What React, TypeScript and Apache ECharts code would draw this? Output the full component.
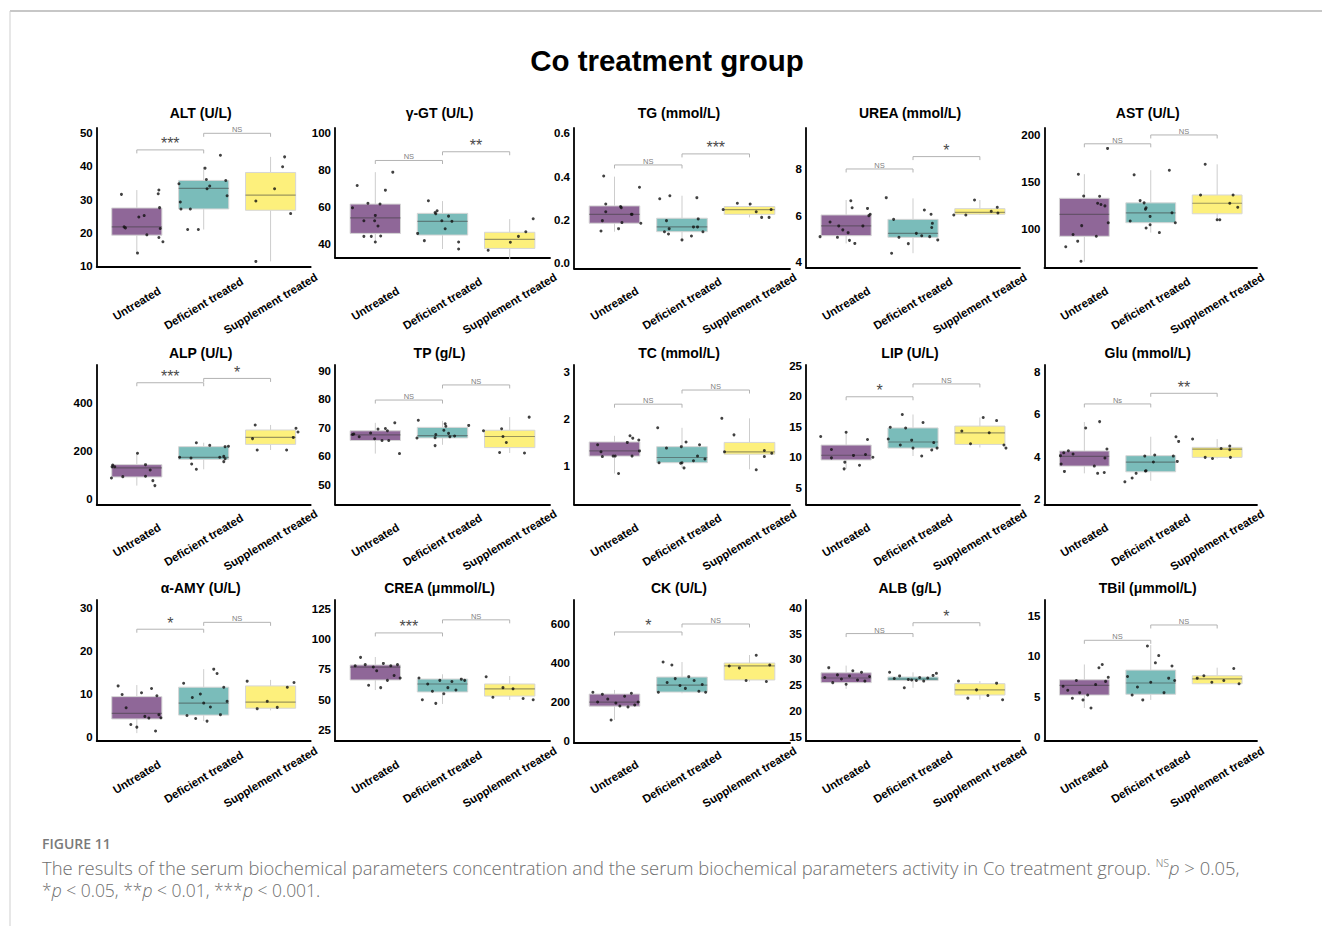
import React, { useEffect, useRef } from "react";
import * as echarts from "echarts";

// ---------- categories & colours ----------
const groups = ["Untreated", "Deficient treated", "Supplement treated"];
const fills = ["#8f6798", "#7abcba", "#fdf07c"];

// ---------- data: box stats are [lower whisker, Q1, median, Q3, upper whisker] ----------
// points are [jittered group position, value]; brackets are [from, to, height, label]

// ALT (U/L)
const altTicks = [10, 20, 30, 40, 50];
const altRange = [9.8, 51.6];
const altBoxes = [[13.9, 19.3, 21.8, 27.5, 32.9], [21.0, 27.2, 33.4, 35.8, 39.9], [11.4, 26.8, 31.4, 38.2, 42.9]];
const altPoints = [
  [0.77, 31.6], [0.81, 21.8], [0.83, 21.5], [1.03, 24.8], [1.11, 25.2], [1.15, 19.4], [1.01, 13.9], [1.33, 32.9], [1.32, 31.8], [1.34, 27.6], [1.35, 21.3], [1.33, 18.6], [1.39, 17.3],
  [1.63, 34.8], [1.65, 29.3], [1.66, 27.2], [1.8, 27.2], [1.76, 21.0], [1.92, 21.0], [2.02, 39.5], [2.04, 36.1], [2.05, 33.3], [2.09, 34.1], [2.25, 43.4], [2.33, 35.8], [2.35, 31.2],
  [2.78, 29.6], [3.06, 33.3], [3.18, 39.9], [3.21, 42.9], [3.3, 25.8], [2.78, 11.4],
];
const altBrackets = [[1, 2, 45.0, "***"], [2, 3, 50.0, "NS"]];

// γ-GT (U/L)
const ggtTicks = [40, 60, 80, 100];
const ggtRange = [32.8, 102.7];
const ggtBoxes = [[41.5, 45.9, 54.3, 61.7, 78.9], [37.5, 45.0, 52.4, 56.7, 63.3], [32.1, 37.8, 42.7, 46.5, 53.6]];
const ggtPoints = [
  [0.73, 71.7], [0.66, 59.7], [0.83, 52.7], [0.83, 44.3], [0.94, 44.3], [0.89, 62.1], [1.0, 55.6], [0.99, 52.7], [1.04, 49.9], [1.07, 61.7], [1.08, 44.5], [1.0, 41.3], [1.15, 69.2], [1.26, 78.9],
  [1.63, 45.9], [1.73, 42.0], [1.79, 63.5], [1.89, 57.2], [1.92, 58.1], [1.9, 56.5], [1.99, 52.7], [2.04, 48.4], [2.09, 55.2], [2.14, 52.4], [2.24, 41.3], [2.24, 37.5],
  [2.68, 36.8], [3.01, 41.1], [3.13, 44.3], [3.24, 46.8], [3.35, 53.8], [3.07, 32.3],
];
const ggtBrackets = [[1, 2, 85.2, "NS"], [2, 3, 89.9, "**"]];

// TG (mmol/L)
const tgTicks = [0, 0.2, 0.4, 0.6];
const tgRange = [-0.023, 0.6245];
const tgBoxes = [[0.146, 0.185, 0.226, 0.265, 0.4], [0.108, 0.146, 0.168, 0.208, 0.312], [0.212, 0.226, 0.248, 0.262, 0.277]];
const tgPoints = [
  [0.84, 0.403], [0.87, 0.274], [0.87, 0.238], [0.82, 0.197], [0.8, 0.149], [1.06, 0.16], [1.09, 0.262], [1.1, 0.257], [1.11, 0.188], [1.25, 0.226], [1.26, 0.226], [1.37, 0.351], [1.39, 0.185],
  [1.67, 0.298], [1.82, 0.312], [1.77, 0.197], [1.81, 0.16], [1.74, 0.146], [1.8, 0.135], [2.0, 0.108], [2.14, 0.126], [2.17, 0.168], [2.23, 0.168], [2.24, 0.205], [2.31, 0.146], [2.22, 0.303],
  [2.61, 0.248], [2.82, 0.277], [3.01, 0.274], [3.1, 0.238], [3.18, 0.212], [3.29, 0.212], [3.32, 0.248],
];
const tgBrackets = [[1, 2, 0.454, "NS"], [2, 3, 0.505, "***"]];

// UREA (mmol/L)
const ureaTicks = [4, 6, 8];
const ureaRange = [3.786, 9.756];
const ureaBoxes = [[4.81, 5.14, 5.56, 6.03, 6.67], [4.39, 5.07, 5.24, 5.84, 6.74], [6.03, 6.06, 6.14, 6.3, 6.67]];
const ureaPoints = [
  [0.61, 5.1], [0.76, 5.73], [0.89, 5.56], [0.87, 5.07], [0.95, 5.39], [1.03, 5.27], [1.05, 4.94], [1.07, 6.64], [1.09, 6.34], [1.13, 4.81], [1.25, 5.56], [1.32, 6.31], [1.34, 6.0], [1.36, 6.06],
  [1.6, 6.77], [1.71, 5.84], [1.68, 4.39], [1.79, 5.07], [1.93, 4.8], [2.05, 5.24], [2.13, 5.14], [2.17, 6.24], [2.27, 6.06], [2.29, 5.67], [2.28, 5.49], [2.25, 5.1], [2.37, 4.96],
  [2.61, 6.03], [2.79, 6.03], [2.92, 6.67], [3.17, 6.19], [3.26, 6.36], [3.27, 6.11],
];
const ureaBrackets = [[1, 2, 8.0, "NS"], [2, 3, 8.53, "*"]];

// AST (U/L)
const astTicks = [100, 150, 200];
const astRange = [58.9, 207];
const astBoxes = [[64.9, 91.9, 115.1, 132.3, 157.9], [95.8, 106.3, 116.8, 127.4, 162.1], [109.5, 115.8, 127.0, 135.8, 168.4]];
const astPoints = [
  [1.35, 185.3], [0.91, 157.9], [0.99, 134.7], [1.23, 134.4], [1.2, 127], [1.25, 125.6], [1.31, 124.2], [1.36, 106.3], [0.96, 103.2], [0.83, 93.7], [1.18, 91.9], [0.9, 86.7], [0.72, 80.7], [0.95, 65.3],
  [1.75, 157.2], [2.28, 162.1], [1.84, 129.8], [1.9, 127.4], [1.93, 122.1], [1.92, 120.7], [1.99, 113], [1.69, 108.1], [2.32, 116.8], [2.37, 106.3], [1.99, 104.2], [1.93, 100.7], [2.13, 95.8],
  [2.82, 168.4], [2.75, 135.8], [3.24, 135.8], [3.19, 127], [3.31, 122.8], [3.0, 109.5], [3.04, 109.5],
];
const astBrackets = [[1, 2, 190.2, "NS"], [2, 3, 199.6, "NS"]];

// ALP (U/L)
const alpTicks = [0, 200, 400];
const alpRange = [-20.9, 560];
const alpBoxes = [[57, 93, 130.6, 144.4, 191.7], [125, 166.7, 175, 219.5, 236], [205.6, 229, 258, 289, 310]];
const alpPoints = [
  [0.63, 136], [0.64, 143], [0.67, 136], [0.62, 89], [0.79, 94.5], [1.01, 191.7], [1.13, 144.4], [1.2, 122], [1.13, 95.8], [1.24, 77.8], [1.27, 57],
  [1.64, 175], [1.81, 172], [1.82, 147], [1.89, 236], [1.89, 125], [2.09, 225], [2.24, 175], [2.3, 179], [2.3, 157], [2.32, 219.5], [2.37, 221], [2.32, 169],
  [2.77, 310], [2.73, 253], [2.8, 205.6], [3.24, 205.6], [3.34, 258], [3.38, 296], [3.41, 280.6],
];
const alpBrackets = [[1, 2, 486, "***"], [2, 3, 504, "*"]];

// TP (g/L)
const tpTicks = [50, 60, 70, 80, 90];
const tpRange = [43.2, 92.1];
const tpBoxes = [[61.0, 65.6, 67.6, 69.0, 71.8], [64.1, 66.5, 67.3, 70.2, 72.5], [61.2, 63.1, 67.0, 69.2, 73.8]];
const tpPoints = [
  [0.66, 67.7], [0.68, 67.9], [0.76, 66.9], [0.93, 68.2], [0.99, 66.2], [1.04, 69.6], [1.1, 65.6], [1.15, 69.8], [1.18, 69.0], [1.2, 65.6], [1.29, 71.8], [1.36, 61.0],
  [1.62, 66.5], [1.64, 72.7], [1.89, 63.8], [1.89, 66.6], [1.9, 67.7], [2.02, 69.2], [2.04, 71.5], [2.05, 70.6], [2.09, 68.1], [2.11, 66.9], [2.18, 67.2], [2.39, 70.9],
  [2.61, 69.0], [2.85, 61.4], [2.88, 69.7], [2.9, 67.0], [2.95, 64.9], [3.22, 61.2], [3.29, 73.8],
];
const tpBrackets = [[1, 2, 79.8, "NS"], [2, 3, 85.1, "NS"]];

// TC (mmol/L)
const tcTicks = [1, 2, 3];
const tcRange = [0.189, 3.14];
const tcBoxes = [[0.84, 1.21, 1.32, 1.51, 1.64], [0.96, 1.07, 1.18, 1.41, 1.81], [0.93, 1.25, 1.3, 1.5, 2.01]];
const tcPoints = [
  [0.75, 1.45], [0.8, 1.3], [0.82, 1.2], [0.98, 1.21], [1.01, 1.21], [1.06, 0.84], [1.19, 1.5], [1.23, 1.64], [1.27, 1.59], [1.26, 1.21], [1.36, 1.55], [1.37, 1.32],
  [1.64, 1.81], [1.66, 1.07], [1.77, 1.38], [1.98, 1.06], [1.99, 1.41], [2.0, 1.07], [2.03, 0.96], [2.06, 1.51], [2.17, 1.11], [2.23, 1.21], [2.26, 1.45], [2.34, 1.15],
  [2.59, 2.01], [2.63, 1.3], [2.77, 1.66], [3.1, 0.92], [3.22, 1.33], [3.22, 1.2], [3.33, 1.27],
];
const tcBrackets = [[1, 2, 2.31, "NS"], [2, 3, 2.61, "NS"]];

// LIP (U/L)
const lipTicks = [5, 10, 15, 20, 25];
const lipRange = [2.3, 25.1];
const lipBoxes = [[8.1, 9.56, 10.33, 12.0, 14.1], [10.2, 11.5, 12.5, 14.8, 17.0], [11.6, 12.1, 14.0, 15.1, 16.5]];
const lipPoints = [
  [0.62, 13.4], [0.78, 11.26], [0.78, 9.9], [0.98, 9.2], [0.97, 8.1], [1.0, 14.1], [1.11, 10.3], [1.2, 8.7], [1.29, 10.44], [1.32, 12.9], [1.4, 10.0],
  [1.63, 13.0], [1.66, 14.9], [1.81, 12.0], [1.84, 17.0], [1.89, 14.8], [1.98, 12.8], [2.0, 11.5], [2.13, 10.2], [2.15, 15.7], [2.28, 11.2], [2.31, 12.4], [2.36, 11.5],
  [2.73, 14.3], [2.86, 12.2], [3.05, 16.5], [3.14, 14.0], [3.25, 16.0], [3.36, 12.0], [3.39, 11.5],
];
const lipBrackets = [[1, 2, 19.9, "*"], [2, 3, 22.0, "NS"]];

// Glu (mmol/L)
const gluTicks = [2, 4, 6, 8];
const gluRange = [1.765, 8.31];
const gluBoxes = [[3.22, 3.56, 4.02, 4.27, 5.63], [2.87, 3.29, 3.75, 4.05, 4.94], [3.92, 3.97, 4.36, 4.44, 4.83]];
const gluPoints = [
  [0.64, 4.05], [0.65, 3.66], [0.69, 4.19], [0.76, 4.28], [0.83, 4.13], [0.7, 3.31], [1.02, 5.35], [1.15, 3.56], [1.2, 3.22], [1.23, 5.65], [1.3, 3.26], [1.31, 3.94], [1.34, 4.36],
  [1.61, 2.82], [1.72, 3.0], [1.78, 3.22], [1.92, 3.33], [1.91, 4.03], [2.04, 3.75], [2.06, 4.08], [2.34, 4.03], [2.38, 4.94], [2.42, 4.72], [2.4, 3.78], [1.93, 3.34],
  [2.63, 4.83], [2.82, 3.97], [2.93, 3.92], [3.06, 4.39], [3.19, 4.5], [3.19, 4.33], [3.2, 3.97],
];
const gluBrackets = [[1, 2, 6.48, "Ns"], [2, 3, 6.98, "**"]];

// α-AMY (U/L)
const amyTicks = [0, 10, 20, 30];
const amyRange = [-0.93, 31.9];
const amyBoxes = [[0.9, 4.2, 5.5, 9.4, 12.1], [3.7, 5.1, 7.9, 11.6, 15.8], [6.2, 6.7, 8.1, 11.9, 13.3]];
const amyPoints = [
  [0.72, 11.9], [0.84, 6.8], [0.91, 2.9], [1.0, 2.3], [1.07, 10.3], [1.12, 4.8], [1.18, 4.4], [1.28, 1.4], [1.3, 9.6], [1.33, 5.2], [1.36, 4.5], [0.78, 9.9], [1.22, 11.3],
  [1.7, 12.5], [1.75, 5.0], [1.83, 9.2], [1.88, 4.3], [1.95, 10.0], [2.0, 7.9], [2.05, 3.7], [2.1, 7.0], [2.15, 15.8], [2.2, 14.8], [2.25, 5.2], [2.3, 11.6], [2.35, 8.3],
  [2.65, 13.0], [2.8, 6.6], [2.95, 8.3], [3.1, 6.9], [3.25, 11.6], [3.35, 12.7],
];
const amyBrackets = [[1, 2, 25.1, "*"], [2, 3, 26.7, "NS"]];

// CREA (μmmol/L)
const creaTicks = [25, 50, 75, 100, 125];
const creaRange = [15.9, 132.4];
const creaBoxes = [[58, 66.3, 77, 78.7, 85.3], [46.5, 56.4, 63, 67.1, 71], [49.8, 53, 59, 63, 69.6]];
const creaPoints = [
  [0.7, 78], [0.78, 85], [0.85, 79], [0.9, 62], [0.97, 77], [1.02, 74], [1.08, 60], [1.12, 80], [1.18, 66], [1.23, 78], [1.28, 70], [1.33, 79], [1.37, 68],
  [1.65, 68], [1.7, 50], [1.78, 63], [1.85, 57], [1.9, 47], [1.96, 66], [2.02, 55], [2.08, 60], [2.14, 65], [2.2, 58], [2.28, 67], [2.33, 66],
  [2.65, 69], [2.75, 52], [2.9, 60], [3.05, 59], [3.2, 51], [3.35, 50],
];
const creaBrackets = [[1, 2, 105.2, "***"], [2, 3, 116, "NS"]];

// CK (U/L)
const ckTicks = [0, 200, 400, 600];
const ckRange = [-10, 723];
const ckBoxes = [[108, 179, 200, 241, 262], [245, 251, 287, 328, 405], [305, 313, 385, 400, 441]];
const ckPoints = [
  [0.68, 250], [0.75, 200], [0.82, 240], [0.9, 215], [0.95, 108], [1.02, 195], [1.08, 180], [1.15, 230], [1.2, 175], [1.25, 245], [1.3, 185], [1.35, 200],
  [1.65, 250], [1.72, 405], [1.78, 300], [1.85, 390], [1.9, 320], [1.97, 285], [2.05, 270], [2.1, 330], [2.18, 310], [2.25, 255], [2.3, 290], [2.35, 250],
  [2.7, 385], [2.85, 375], [2.95, 310], [3.1, 440], [3.25, 305], [3.3, 390],
];
const ckBrackets = [[1, 2, 559, "*"], [2, 3, 600, "NS"]];

// ALB (g/L)
const albTicks = [15, 20, 25, 30, 35, 40];
const albRange = [14.2, 41.5];
const albBoxes = [[24.3, 25.5, 26.4, 27.4, 28.8], [24.5, 25.9, 26.2, 26.6, 27.5], [22.2, 23.1, 24.1, 25.3, 25.8]];
const albPoints = [
  [0.68, 26.5], [0.74, 28.4], [0.8, 25.5], [0.87, 27.0], [0.93, 26.2], [1.0, 25.2], [1.05, 26.8], [1.1, 27.8], [1.17, 26.0], [1.23, 27.5], [1.28, 25.8], [1.35, 26.7],
  [1.65, 27.5], [1.72, 26.3], [1.8, 26.8], [1.87, 24.5], [1.93, 26.1], [1.98, 26.0], [2.05, 25.9], [2.1, 26.5], [2.16, 25.8], [2.22, 26.4], [2.3, 26.9], [2.35, 27.3],
  [2.68, 25.8], [2.82, 22.5], [2.95, 24.1], [3.12, 23.0], [3.25, 25.4], [3.34, 22.2],
];
const albBrackets = [[1, 2, 35.0, "NS"], [2, 3, 37.1, "*"]];

// TBil (μmmol/L)
const tbilTicks = [0, 5, 10, 15];
const tbilRange = [-0.5, 17];
const tbilBoxes = [[3.6, 5.2, 6.4, 7.1, 9.0], [4.6, 5.3, 6.7, 8.3, 11.4], [6.6, 6.6, 7.2, 7.6, 8.6]];
const tbilPoints = [
  [0.68, 6.3], [0.75, 5.8], [0.82, 4.8], [0.88, 7.0], [0.93, 5.5], [0.98, 4.6], [1.05, 5.2], [1.1, 3.6], [1.17, 6.5], [1.22, 8.6], [1.27, 9.0], [1.32, 6.9], [1.36, 7.4],
  [1.65, 7.5], [1.72, 5.2], [1.8, 6.2], [1.88, 4.6], [1.95, 11.3], [2.0, 6.8], [2.07, 9.2], [2.12, 10.1], [2.2, 5.5], [2.27, 7.3], [2.32, 8.8], [2.36, 7.0],
  [2.7, 7.3], [2.8, 7.6], [2.92, 6.8], [3.1, 7.0], [3.25, 8.5], [3.33, 6.6],
];
const tbilBrackets = [[1, 2, 12.0, "NS"], [2, 3, 13.9, "NS"]];

// ---------- panel list (reading order) ----------
const panels = [
  { title: "ALT (U/L)", ticks: altTicks, range: altRange, boxes: altBoxes, points: altPoints, brackets: altBrackets, digits: 0 },
  { title: "γ-GT (U/L)", ticks: ggtTicks, range: ggtRange, boxes: ggtBoxes, points: ggtPoints, brackets: ggtBrackets, digits: 0 },
  { title: "TG (mmol/L)", ticks: tgTicks, range: tgRange, boxes: tgBoxes, points: tgPoints, brackets: tgBrackets, digits: 1 },
  { title: "UREA (mmol/L)", ticks: ureaTicks, range: ureaRange, boxes: ureaBoxes, points: ureaPoints, brackets: ureaBrackets, digits: 0 },
  { title: "AST (U/L)", ticks: astTicks, range: astRange, boxes: astBoxes, points: astPoints, brackets: astBrackets, digits: 0 },
  { title: "ALP (U/L)", ticks: alpTicks, range: alpRange, boxes: alpBoxes, points: alpPoints, brackets: alpBrackets, digits: 0 },
  { title: "TP (g/L)", ticks: tpTicks, range: tpRange, boxes: tpBoxes, points: tpPoints, brackets: tpBrackets, digits: 0 },
  { title: "TC (mmol/L)", ticks: tcTicks, range: tcRange, boxes: tcBoxes, points: tcPoints, brackets: tcBrackets, digits: 0 },
  { title: "LIP (U/L)", ticks: lipTicks, range: lipRange, boxes: lipBoxes, points: lipPoints, brackets: lipBrackets, digits: 0 },
  { title: "Glu (mmol/L)", ticks: gluTicks, range: gluRange, boxes: gluBoxes, points: gluPoints, brackets: gluBrackets, digits: 0 },
  { title: "α-AMY (U/L)", ticks: amyTicks, range: amyRange, boxes: amyBoxes, points: amyPoints, brackets: amyBrackets, digits: 0 },
  { title: "CREA (μmmol/L)", ticks: creaTicks, range: creaRange, boxes: creaBoxes, points: creaPoints, brackets: creaBrackets, digits: 0 },
  { title: "CK (U/L)", ticks: ckTicks, range: ckRange, boxes: ckBoxes, points: ckPoints, brackets: ckBrackets, digits: 0 },
  { title: "ALB (g/L)", ticks: albTicks, range: albRange, boxes: albBoxes, points: albPoints, brackets: albBrackets, digits: 0 },
  { title: "TBil (μmmol/L)", ticks: tbilTicks, range: tbilRange, boxes: tbilBoxes, points: tbilPoints, brackets: tbilBrackets, digits: 0 },
];

// ---------- layout (pixel frame of each plotting panel) ----------
const colLeft = [96.7, 335, 574, 806, 1044.5];
const colRight = [310.7, 550, 790, 1020, 1257];
const rowTop = [128, 365, 600];
const rowBottom = [
  [266.7, 257.7, 268.3, 267.3, 267.3],
  [504.3, 504.3, 504.3, 504.3, 504.3],
  [741, 741, 743, 741, 741],
];
const rowTitleY = [113, 353, 588];
const labelCenterY = [303.5, 540, 777];

const FONT = "'Liberation Sans', Arial, Helvetica, sans-serif";
const CAPTION_FONT = "'Open Sans', Lato, 'Noto Sans', sans-serif";

function buildOption() {
  const grid: any[] = [];
  const xAxis: any[] = [];
  const yAxis: any[] = [];
  const series: any[] = [];
  const graphic: any[] = [];

  // page frame lines
  graphic.push({ type: "line", shape: { x1: 10, y1: 11, x2: 1322, y2: 11 }, style: { stroke: "#b4b4b4", lineWidth: 1.5 }, silent: true });
  graphic.push({ type: "line", shape: { x1: 10, y1: 11, x2: 10, y2: 926 }, style: { stroke: "#cfcfcf", lineWidth: 1 }, silent: true });

  // main title
  graphic.push({
    type: "text",
    style: { text: "Co treatment group", x: 667, y: 60, align: "center", verticalAlign: "middle", fontSize: 29.5, fontWeight: "bold", fontFamily: FONT, fill: "#000" },
  });

  panels.forEach((p, i) => {
    const row = Math.floor(i / 5);
    const col = i % 5;
    const left = colLeft[col];
    const right = colRight[col];
    const top = rowTop[row];
    const bottom = rowBottom[row][col];

    grid.push({ left, top, width: right - left, height: bottom - top, containLabel: false });

    xAxis.push({
      type: "value",
      gridIndex: i,
      min: 0.4,
      max: 3.6,
      position: "bottom",
      axisLine: { show: true, onZero: false, lineStyle: { color: "#000", width: 1.8 } },
      axisTick: { show: false },
      splitLine: { show: false },
      axisLabel: {
        customValues: [1, 2, 3],
        formatter: (v: number) => groups[Math.round(v) - 1],
        rotate: 31,
        align: "center",
        verticalAlign: "middle",
        margin: labelCenterY[row] - bottom,
        fontSize: 11.5,
        fontWeight: "bold",
        fontFamily: FONT,
        color: "#000",
      },
    });

    yAxis.push({
      type: "value",
      gridIndex: i,
      min: p.range[0],
      max: p.range[1],
      position: "left",
      axisLine: { show: true, onZero: false, lineStyle: { color: "#000", width: 1.8 } },
      axisTick: { show: false },
      splitLine: { show: false },
      axisLabel: {
        customValues: p.ticks,
        formatter: (v: number) => v.toFixed(p.digits),
        margin: 4,
        fontSize: 11.5,
        fontWeight: "bold",
        fontFamily: FONT,
        color: "#000",
      },
    });

    // panel title
    graphic.push({
      type: "text",
      style: { text: p.title, x: (left + right) / 2 - 3, y: rowTitleY[row], align: "center", verticalAlign: "middle", fontSize: 14, fontWeight: "bold", fontFamily: FONT, fill: "#000" },
    });

    // boxes with whiskers
    series.push({
      type: "custom",
      xAxisIndex: i,
      yAxisIndex: i,
      silent: true,
      z: 2,
      encode: { x: 0, y: [1, 2, 3, 4, 5] },
      data: p.boxes.map((b, k) => [k + 1, ...b]),
      renderItem: (params: any, api: any) => {
        const x = api.value(0);
        const half = 0.375;
        const lo = api.coord([x, api.value(1)]);
        const q1 = api.coord([x, api.value(2)]);
        const q3 = api.coord([x, api.value(4)]);
        const hi = api.coord([x, api.value(5)]);
        const bl = api.coord([x - half, api.value(2)]);
        const tr = api.coord([x + half, api.value(4)]);
        const ml = api.coord([x - half, api.value(3)]);
        const mr = api.coord([x + half, api.value(3)]);
        const whisker = { stroke: "#cdcdcd", lineWidth: 1 };
        return {
          type: "group",
          children: [
            { type: "line", shape: { x1: hi[0], y1: hi[1], x2: q3[0], y2: q3[1] }, style: whisker },
            { type: "line", shape: { x1: q1[0], y1: q1[1], x2: lo[0], y2: lo[1] }, style: whisker },
            {
              type: "rect",
              shape: { x: bl[0], y: tr[1], width: tr[0] - bl[0], height: bl[1] - tr[1] },
              style: { fill: fills[params.dataIndex], stroke: "#d6d6d6", lineWidth: 1 },
            },
            { type: "line", shape: { x1: ml[0], y1: ml[1], x2: mr[0], y2: mr[1] }, style: { stroke: "rgba(60,60,60,0.5)", lineWidth: 1.2 } },
          ],
        };
      },
    });

    // individual observations
    series.push({
      type: "scatter",
      xAxisIndex: i,
      yAxisIndex: i,
      silent: true,
      z: 3,
      symbol: "circle",
      symbolSize: 3,
      itemStyle: { color: "#111" },
      data: p.points,
    });

    // significance brackets
    series.push({
      type: "custom",
      xAxisIndex: i,
      yAxisIndex: i,
      silent: true,
      z: 4,
      encode: { x: [0, 1], y: 2 },
      data: p.brackets.map((b) => [b[0], b[1], b[2]]),
      renderItem: (params: any, api: any) => {
        const b = p.brackets[params.dataIndex];
        const a = api.coord([api.value(0), api.value(2)]);
        const c = api.coord([api.value(1), api.value(2)]);
        const tick = 3.5;
        const ns = /^n/i.test(String(b[3]));
        return {
          type: "group",
          children: [
            {
              type: "polyline",
              shape: { points: [[a[0], a[1] + tick], [a[0], a[1]], [c[0], c[1]], [c[0], c[1] + tick]] },
              style: { stroke: "#b3b3b3", lineWidth: 1, fill: null },
            },
            {
              type: "text",
              style: {
                text: String(b[3]),
                x: (a[0] + c[0]) / 2,
                y: a[1] + (ns ? 0.5 : 2),
                align: "center",
                verticalAlign: "bottom",
                fontSize: ns ? 7.5 : 16,
                fontFamily: FONT,
                fill: ns ? "#7f7f7f" : "#4a4a4a",
              },
            },
          ],
        };
      },
    });
  });

  // figure caption
  graphic.push({
    type: "text",
    style: { text: "FIGURE 11", x: 42, y: 843, verticalAlign: "middle", fontSize: 14, fontWeight: 600, fontFamily: CAPTION_FONT, fill: "#7a7a7a" },
  });
  graphic.push({
    type: "text",
    style: {
      text:
        "The results of the serum biochemical parameters concentration and the serum biochemical parameters activity in Co treatment group. {sup|NS}{it|p} > 0.05,",
      x: 42,
      y: 867,
      verticalAlign: "middle",
      fontSize: 18.4,
      fontFamily: CAPTION_FONT,
      fontWeight: 300,
      fill: "#6e6e6e",
      rich: {
        sup: { fontSize: 10.5, padding: [0, 0, 9, 0], fontFamily: CAPTION_FONT, fontWeight: 300, fill: "#6e6e6e" },
        it: { fontSize: 18.4, fontStyle: "italic", fontFamily: CAPTION_FONT, fontWeight: 300, fill: "#6e6e6e" },
      },
    },
  });
  graphic.push({
    type: "text",
    style: {
      text: "*{it|p} < 0.05, **{it|p} < 0.01, ***{it|p} < 0.001.",
      x: 42,
      y: 890,
      verticalAlign: "middle",
      fontSize: 17.5,
      fontFamily: CAPTION_FONT,
      fontWeight: 300,
      fill: "#6e6e6e",
      rich: {
        it: { fontSize: 17.5, fontStyle: "italic", fontFamily: CAPTION_FONT, fontWeight: 300, fill: "#6e6e6e" },
      },
    },
  });

  return { animation: false, grid, xAxis, yAxis, series, graphic };
}

export default function App() {
  const ref = useRef<HTMLDivElement>(null);
  useEffect(() => {
    if (!ref.current) return;
    const chart = echarts.init(ref.current, null, { renderer: "svg" });
    chart.setOption(buildOption() as any);
    return () => chart.dispose();
  }, []);
  return (
    <div
      ref={ref}
      style={{ position: "absolute", left: 0, top: 0, width: 1322, height: 926, background: "#fff" }}
    />
  );
}
